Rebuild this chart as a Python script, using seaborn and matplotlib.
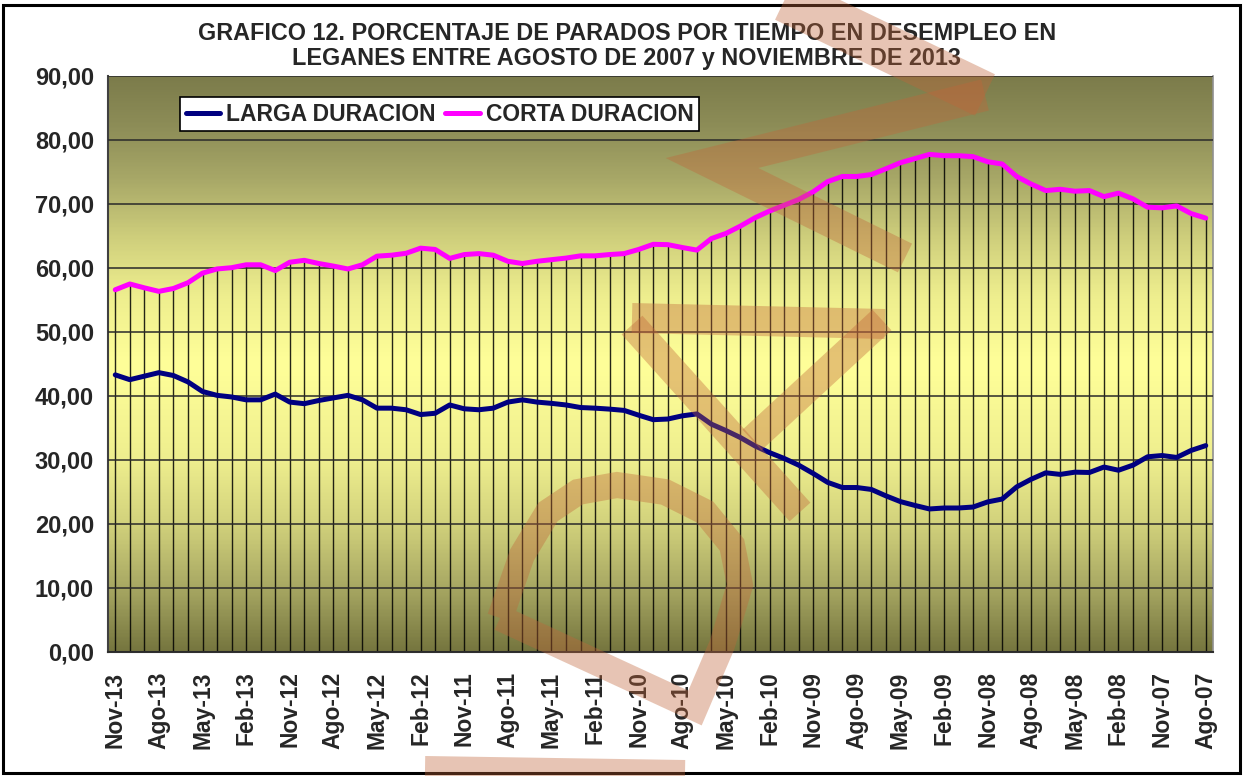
import matplotlib
matplotlib.use("Agg")
import numpy as np
import pandas as pd
import matplotlib.pyplot as plt
import seaborn as sns
from matplotlib.colors import LinearSegmentedColormap
from matplotlib.patches import Rectangle
from matplotlib.lines import Line2D
from matplotlib.ticker import FixedLocator, FuncFormatter

# ---------------- data ----------------
tick_labels = ["Nov-13", "Ago-13", "May-13", "Feb-13", "Nov-12", "Ago-12", "May-12",
               "Feb-12", "Nov-11", "Ago-11", "May-11", "Feb-11", "Nov-10", "Ago-10",
               "May-10", "Feb-10", "Nov-09", "Ago-09", "May-09", "Feb-09", "Nov-08",
               "Ago-08", "May-08", "Feb-08", "Nov-07", "Ago-07"]

corta_duracion = [56.6, 57.5, 56.9, 56.35, 56.8, 57.7, 59.2, 59.85, 60.05, 60.5,
                  60.5, 59.6, 60.9, 61.2, 60.7, 60.3, 59.85, 60.5, 61.85, 62.0,
                  62.3, 63.1, 62.9, 61.5, 62.1, 62.25, 62.0, 61.05, 60.7, 61.05,
                  61.3, 61.55, 61.9, 61.9, 62.1, 62.25, 62.9, 63.7, 63.65, 63.2,
                  62.8, 64.6, 65.4, 66.55, 67.85, 68.9, 69.8, 70.7, 71.9, 73.5,
                  74.3, 74.3, 74.6, 75.5, 76.45, 77.1, 77.75, 77.55, 77.55, 77.4,
                  76.6, 76.25, 74.3, 73.1, 72.1, 72.3, 72.0, 72.1, 71.15, 71.7,
                  70.8, 69.5, 69.4, 69.7, 68.5, 67.8]

larga_duracion = [43.3, 42.55, 43.1, 43.65, 43.2, 42.2, 40.7, 40.1, 39.85, 39.4,
                  39.4, 40.3, 39.05, 38.8, 39.3, 39.7, 40.1, 39.4, 38.1, 38.1,
                  37.85, 37.1, 37.3, 38.6, 38.0, 37.85, 38.1, 39.05, 39.4, 39.05,
                  38.85, 38.6, 38.2, 38.1, 37.95, 37.75, 37.0, 36.3, 36.4, 36.9,
                  37.2, 35.6, 34.6, 33.5, 32.2, 31.15, 30.25, 29.2, 27.9, 26.5,
                  25.7, 25.7, 25.4, 24.4, 23.5, 22.9, 22.35, 22.5, 22.5, 22.65,
                  23.45, 23.9, 25.8, 27.0, 28.0, 27.75, 28.1, 28.05, 28.9, 28.4,
                  29.2, 30.5, 30.7, 30.4, 31.5, 32.25]

series_names = ["LARGA DURACION", "CORTA DURACION"]
series_colors = ["#000080", "#FF00FF"]

title_text = ("GRAFICO 12. PORCENTAJE DE PARADOS POR TIEMPO EN DESEMPLEO EN\n"
              "LEGANES ENTRE AGOSTO DE 2007 y NOVIEMBRE DE 2013")

# ---------------- build table ----------------
n = len(corta_duracion)
idx = np.arange(n)
df = pd.concat([
    pd.DataFrame({"i": idx, "valor": larga_duracion, "serie": series_names[0]}),
    pd.DataFrame({"i": idx, "valor": corta_duracion, "serie": series_names[1]}),
])

# ---------------- figure ----------------
sns.set_theme(style="white")
plt.rcParams["font.family"] = ["Liberation Sans", "DejaVu Sans"]
plt.rcParams["font.weight"] = "bold"

W, H = 1243, 776
fig = plt.figure(figsize=(W / 100, H / 100), dpi=100)
fig.patch.set_facecolor("white")
ax = fig.add_axes([108 / W, 1 - 652 / H, (1213 - 108) / W, (652 - 76) / H])

# gradient background of the plot area
grad_cmap = LinearSegmentedColormap.from_list("bg", [
    (0.0, "#76763f"), (0.111, "#a8a863"), (0.222, "#d2d27c"), (0.333, "#eeee8e"),
    (0.5, "#ffff99"), (0.62, "#eeee8e"), (0.72, "#cfcf7c"), (0.82, "#a9a968"),
    (0.91, "#8e8e58"), (1.0, "#7c7c4b")])
grad = np.linspace(0, 1, 400).reshape(-1, 1)
ax.imshow(grad, extent=[0, 1, 0, 1], transform=ax.transAxes, cmap=grad_cmap,
          origin="lower", aspect="auto", zorder=0, interpolation="bilinear")

# drop lines from upper series to axis
ax.vlines(idx, 0, np.maximum(corta_duracion, larga_duracion), colors="black",
          linewidth=1.0, alpha=0.85, zorder=2)

sns.lineplot(data=df, x="i", y="valor", hue="serie", palette=series_colors,
             hue_order=series_names, linewidth=3.6, ax=ax, zorder=3,
             legend=False)

ax.set_xlim(-0.5, n - 0.5)
ax.set_ylim(0, 90)
ax.set_xlabel("")
ax.set_ylabel("")

# horizontal grid
ax.yaxis.grid(True, color="#2a2a2a", linewidth=1.3, alpha=0.85, zorder=1)
ax.xaxis.grid(False)
ax.set_axisbelow(False)
for gl in ax.get_ygridlines():
    gl.set_zorder(1)

# y ticks
ax.set_yticks(np.arange(0, 91, 10))
ax.yaxis.set_major_formatter(FuncFormatter(lambda v, p: f"{v:.2f}".replace(".", ",")))
ax.tick_params(axis="y", direction="out", length=6, width=1.2, color="#404040",
               labelsize=17, pad=4)

# x ticks: labels at every 3rd category, ticks at category boundaries
ax.set_xticks(idx[::3])
ax.set_xticklabels(tick_labels, rotation=90, fontsize=16.5, fontweight="bold")
ax.tick_params(axis="x", which="major", length=0, pad=14)
ax.xaxis.set_minor_locator(FixedLocator(np.arange(-0.5, n, 1.0)))
ax.tick_params(axis="x", which="minor", direction="out", length=6, width=1.2,
               color="#505050")
for lab in ax.get_yticklabels():
    lab.set_fontweight("bold")

ax.spines["top"].set_visible(False)
ax.spines["left"].set_color("#404040")
ax.spines["left"].set_linewidth(1.5)
ax.spines["bottom"].set_color("#303030")
ax.spines["bottom"].set_linewidth(1.5)
ax.spines["right"].set_color("#909090")
ax.spines["right"].set_linewidth(1.2)

# legend
handles = [Line2D([0], [0], color=c, linewidth=3.6) for c in series_colors]
leg = ax.legend(handles, series_names, loc="upper left", bbox_to_anchor=(0.065, 0.9635),
                ncol=2, frameon=True, fancybox=False, framealpha=1, edgecolor="black",
                borderaxespad=0, handlelength=1.5, handletextpad=0.25,
                columnspacing=0.45, borderpad=0.25, prop={"size": 16.5, "weight": "bold"})
leg.get_frame().set_linewidth(1.2)
leg.set_zorder(5)

# title
fig.text(627 / W, 1 - 46 / H, title_text, ha="center", va="center", fontsize=16.8,
         fontweight="bold", linespacing=1.15)

# figure border
fig.add_artist(Rectangle((3 / W, 3 / H), (W - 6) / W, (H - 8) / H, transform=fig.transFigure,
                         fill=False, edgecolor="black", linewidth=2.2, zorder=0))

# watermark strokes (decoration, figure pixel coordinates)
wm_strokes = [
    ([(735, -25), (985, 95)], 46),
    ([(985, 95), (712, 163), (905, 258)], 32),
    ([(632, 318), (885, 324)], 30),
    ([(632, 325), (800, 512)], 28),
    ([(882, 320), (752, 440)], 28),
    ([(500, 618), (695, 708), (722, 645), (740, 585), (732, 545), (705, 512),
      (665, 492), (617, 485), (578, 492), (548, 512), (522, 555), (500, 618)], 26),
    ([(425, 770), (685, 774)], 28),
]
for pts, wpx in wm_strokes:
    xs = [p[0] / W for p in pts]
    ys = [1 - p[1] / H for p in pts]
    fig.add_artist(Line2D(xs, ys, transform=fig.transFigure, color="#c0663a",
                          alpha=0.38, linewidth=wpx * 0.72, solid_capstyle="butt",
                          solid_joinstyle="miter", zorder=10))

fig.savefig("out.png", dpi=100)
